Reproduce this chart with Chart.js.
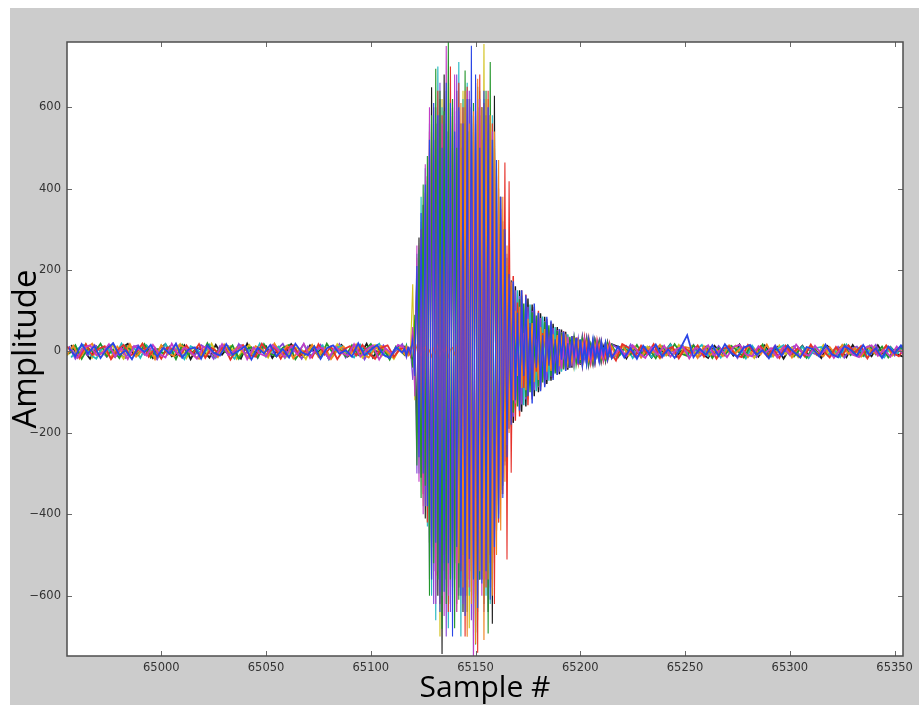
<!DOCTYPE html>
<html>
<head>
<meta charset="utf-8">
<script src="https://cdn.jsdelivr.net/npm/chart.js@4.4.1/dist/chart.umd.min.js"></script>
<style>
  html, body { margin: 0; padding: 0; background: #ffffff; }
  #frame { position: absolute; left: 10px; top: 8px; width: 909px; height: 697px; background: #cccccc; }
  canvas { display: block; }
</style>
</head>
<body>
<div id="frame"><canvas id="trace" width="909" height="697"></canvas></div>
<script>
// sample grid: quiet parts every 3rd sample, burst every sample
const leftStart = 64955, leftStep = 3;
const burstStart = 65116;
const rightStart = 65217, rightStep = 3;
const xMin = 64955, xMax = 65354;
const yMin = -748, yMax = 760;

const xTicks = [65000, 65050, 65100, 65150, 65200, 65250, 65300, 65350];
const yTicks = [-600, -400, -200, 0, 200, 400, 600];

// orange trace (burst starts later)
const orangeLeft = [-8,14,-17,6,19,-11,2,-15,12,-6,18,-13,4,9,-19,15,-3,-12,16,7,-9,-18,11,3,-14,17,-7,10,-2,-16,13,5,-11,19,-9,14,-17,6,-4,16,-13,8,-19,3,12,-10,17,-6,-15,7,13,-3,-16,9];
const orangeBurst = [-6,9,-12,4,11,-8,14,-3,-10,7,12,-9,3,-13,8,-5,15,-11,6,-2,10,-14,5,9,-7,12,
  -520,610,-580,640,-701,560,-620,590,-718,670,-540,600,-709,620,-560,580,-600,540,-500,470,-440,380,-320,260,
  -200,170,
  -120,100,-60,110,-90,45,-95,80,-30,70,-75,20,
  -70,60,-15,55,-50,10,-48,42,-5,40,
  -36,30,-3,32,-28,8,-26,24,-10,22,
  -21,18,-2,20,-18,6,-17,16,-4,15,-14,2,-13,12,-5,11];
const orangeRight = [-11,14,-6,12,-15,8,-3,16,-10,5,-13,11,7,-16,13,-9,4,-12,15,-5,10,-14,6,-8,17,-11,3,12,-15,9,-7,14,-4,-12,11,-9,16,-6,8,-13,12,-3,-10,15,-8,6,-11];

// blue trace
const blueLeft = [8,-12,18,-5,13,-16,6,20,-9,3,-19,12,-2,16,-13,9,-6,19,-15,5,10,-18,15,-3,-10,18,-8,2,13,-20,9,-5,16,-12,6,-15,19,-2,-9,12,-18,8,15,-6,3,-13,20,-10,5,16,-8,-16,10,-3];
const blueBurst = [6,-9,11,-4, 30,-60, 210,-260,340,-300,410,-380,
  520,-560,610,-470,580,-640,500,-590,660,-520,610,-700,540,-480,600,-600,560,-650,620,-510,751,-560,680,-630,500,-570,640,-540,600,-610,520,-480,
  470,-410,380,-360,300,-260, 190,-180,
  172,-120,95,-145,150,-60,138,-110,70,-128,118,-40,
  95,-98,40,-88,85,-35,76,-70,30,-58,
  55,-20,49,-48,20,-40,38,-12,33,-30,
  28,-30,12,-28,25,-8,27,-24,10,-22,23,-5,20,-18,6,-16];
const blueRight = [12,-15,8,-18,14,-6,17,-12,5,-16,10,40,-14,7,-9,15,-11,18,-4,-13,9,16,-8,3,-17,12,-10,14,-2,-15,11,6,-12,17,-7,-14,13,4,-10,16,-9,8,-16,12,-5,15,-11];

// magenta trace
const magentaLeft = [5,-16,10,15,-9,-3,18,-13,8,-19,13,3,-10,16,-6,-15,19,-8,9,-2,-18,12,6,-13,18,-9,2,15,-19,10,-5,-12,16,3,-15,13,-8,19,-16,6,9,-18,12,-3,-10,18,-13,5,15,-20,8,-6,16,-12];
const magentaBurst = [9,-5,12,-10, 60,-110, 260,-320,280,-400,460,-380,
  600,-520,480,-620,580,-590,560,-650,750,-600,520,-560,680,-640,590,-520,560,-600,640,-580,600,-755,660,-540,620,-600,560,-560,600,-520,540,-480,
  430,-400,350,-310,260,-230, 180,-165,
  140,-128,70,-120,118,-50,106,-100,40,-90,88,-30,
  80,-76,20,-68,64,-15,58,-54,8,-48,
  45,-43,5,-38,36,-10,33,-31,2,-28,
  27,-12,25,-24,4,-22,22,-8,20,-19,0,-18,17,-6,15,-15];
const magentaRight = [7,-12,15,-4,-16,10,-8,14,-13,6,12,-17,9,-2,15,-10,5,-14,11,16,-7,-12,13,-5,8,-15,12,-9,17,-3,-11,14,-6,10,-16,5,13,-8,-14,9,15,-11,4,-13,12,-7,16];

// red trace
const redLeft = [12,-5,-15,18,-9,6,13,-19,2,16,-10,-3,19,-13,8,-18,10,5,-12,15,-6,18,-16,9,-2,13,-20,6,16,-9,-13,19,-3,10,-18,8,15,-12,3,-15,18,-8,12,-19,5,13,-10,16,-5,-18,9,15,-13,6];
const redBurst = [10,-7,4,-12, 50,-30, 190,-230,300,-350,390,-420,
  540,-480,600,-550,640,-620,580,-500,560,-640,700,-580,540,-620,660,-540,600,-700,650,-560,620,-600,590,-740,680,-560,610,-580,640,-500,560,-620,
  300,-420,380,-350,464,-511,418,-298,
  185,-170,120,-160,150,-90,140,-132,60,-118,110,-50,
  100,-95,45,-84,80,-30,72,-66,20,-58,
  55,-40,50,-46,18,-40,38,-20,35,-33,
  12,-30,30,-10,28,-26,5,-25,24,-8,22,-21,3,-19,18,-6];
const redRight = [-22,18,9,-12,14,-7,18,-15,4,11,-17,8,-5,15,-13,10,-18,6,12,-9,-14,16,-3,13,-11,7,-16,14,-6,9,-12,17,-8,2,-15,11,-10,15,-4,13,-17,8,-9,14,-2,-12,10];

// green trace
const greenLeft = [-6,15,-18,9,-3,19,-12,5,-16,13,2,-9,18,-15,6,-5,12,-19,16,-8,3,-13,20,-10,8,-2,15,-18,5,10,-15,18,-6,-12,9,16,-19,3,-8,13,-16,19,-5,6,-12,15,-9,2,18,-13,8,-20,12,-3];
const greenBurst = [-8,12,-6,9, -40,90, -280,250,-360,410,-330,480,
  -600,580,-520,694,-560,640,-681,590,-620,763,-560,620,-680,500,-610,560,-500,690,-640,540,-590,610,-720,650,-560,600,-600,640,-693,711,-560,520,
  -440,380,-350,300,-240,210, -170,160,
  -150,80,-135,128,-60,118,-112,45,-100,96,-30,88,
  -86,50,-76,72,-20,64,-60,25,-54,50,
  -15,46,-44,10,-38,36,-8,33,-31,5,
  -28,27,0,25,-24,12,-22,22,-6,20,-19,3,-18,17,-5,15];
const greenRight = [-14,10,-7,16,-12,4,-17,13,-9,18,-5,-11,15,-3,12,-16,8,-10,14,2,-15,11,-6,17,-13,9,-4,15,-12,6,-16,10,-8,13,-2,-14,16,-9,5,-11,14,-7,12,-15,3,10,-13];

// cyan trace
const cyanLeft = [-15,6,16,-8,-18,12,3,-13,19,-5,9,-16,15,-2,-12,18,-6,8,-19,13,5,-9,16,-15,10,-3,-18,15,6,-10,19,-13,2,12,-16,9,-5,18,-10,-2,15,-19,8,13,-6,-15,16,-9,5,19,-12,-3,10,-18];
const cyanBurst = [-5,14,-9,3, 20,-80, 240,-300,380,-260,450,-430,
  560,-600,520,-660,700,-540,600,-520,640,-680,620,-560,590,-610,711,-700,620,-580,660,-600,600,-746,560,-640,580,-560,620,-600,540,-620,580,-500,
  450,-420,380,-330,290,-250, 200,-185,
  165,-100,150,-148,80,-132,126,-60,115,-108,40,-98,
  95,-50,86,-80,30,-72,68,-25,60,-56,
  15,-50,47,-10,42,-40,5,-35,33,-12,
  30,-29,8,-27,26,-10,24,-23,2,-21,20,-6,19,-18,0,-16];
const cyanRight = [-9,13,-16,7,11,-14,5,-10,17,-6,14,-12,3,16,-11,8,-15,12,-4,9,-17,14,-7,10,-13,6,15,-9,-3,12,-16,8,11,-10,4,-14,17,-6,9,-12,13,-5,-15,10,-8,16,-4];

// yellow trace
const yellowLeft = [-10,13,-3,18,-15,9,-6,16,5,-18,12,-9,19,-2,-13,15,-8,3,18,-16,10,-5,-12,19,-9,6,13,-18,2,16,-10,8,-15,18,-3,-13,12,5,-19,15,-6,9,-16,18,-2,-9,13,-15,6,16,-12,3,-18,10];
const yellowBurst = [-6,10,-3,8, 165,-120, 230,-250,318,-380,350,-420,
  480,-560,520,-600,560,-700,620,-540,600,-580,660,-500,560,-640,580,-600,640,-560,520,-680,600,-620,580,-660,640,-540,755,-560,620,-580,560,-520,
  400,-360,330,-300,250,-220, 170,-160,
  155,-140,90,-135,138,-70,124,-118,50,-105,100,-35,
  90,-86,30,-76,72,-20,64,-60,10,-53,
  50,-47,8,-42,40,-15,36,-34,4,-30,
  29,-28,10,-26,25,-5,23,-22,0,-21,20,-8,18,-18,3,-16];
const yellowRight = [-5,15,-11,9,-14,12,3,-17,8,-9,16,-6,13,-12,4,11,-15,7,-3,14,-10,9,-16,12,-2,-13,15,-7,10,-14,5,12,-9,16,-11,3,-12,14,-6,8,-15,11,-4,13,-10,7,-14];

// purple trace
const purpleLeft = [13,-18,6,-9,16,3,-13,19,-6,-16,10,15,-8,2,-19,12,-5,18,-15,8,-10,16,5,-18,13,-2,-12,18,-6,9,-16,15,-9,3,19,-13,6,-18,12,-3,16,-10,-6,18,-15,5,13,-19,9,-8,15,-12,2,18];
const purpleBurst = [4,-13,10,-2, -70,40, -300,250,-280,300,-380,420,
  -560,520,-620,600,-540,660,-600,580,-700,540,-640,620,-560,680,-600,560,-620,600,-580,640,-660,560,-600,620,-560,600,-640,540,-600,560,-580,500,
  -440,400,-360,320,-280,240, -190,170,
  -160,150,-80,136,-130,60,-118,110,-45,100,-95,30,
  -88,82,-25,74,-70,18,-62,58,-10,52,
  -50,47,-6,42,-40,12,-36,35,-3,31,
  -30,29,-12,27,-26,5,-24,23,-8,22,-21,2,-19,18,-6,17];
const purpleRight = [8,-10,17,-13,4,12,-9,-15,11,-5,14,-8,16,-12,2,-11,13,-6,9,-16,12,-3,-14,10,-7,15,-10,5,13,-13,8,-4,-11,14,-9,11,-15,6,12,-8,-3,16,-12,7,-10,13,-5];

// black trace
const blackLeft = [16,-9,3,-18,12,-5,15,-13,8,19,-10,-2,13,-16,6,18,-12,-6,15,-19,9,2,-15,16,-8,12,-3,-18,19,-10,5,13,-16,8,-9,18,-2,-13,15,-5,10,-18,3,16,-12,6,-8,19,-15,9,-3,-10,13,-16];
const blackBurst = [12,-8,5,-11, -20,45, -200,280,-310,360,-410,430,
  -470,649,-540,560,-600,620,-743,680,-560,540,-620,600,-520,640,-580,500,-640,560,-600,620,-540,580,-690,600,-560,520,-620,580,-640,580,-669,628,
  -410,380,-340,300,-270,230, -190,175,
  -175,160,-100,150,-148,70,-135,130,-55,115,-110,40,
  -100,94,-30,85,-80,22,-72,68,-15,60,
  -56,54,-10,48,-45,6,-40,38,-14,34,
  -32,31,-4,29,-28,11,-26,25,-2,23,-22,8,-21,20,-5,18];
const blackRight = [10,-17,13,-8,6,-15,11,-4,18,-12,7,-14,9,-6,-16,14,-3,12,-10,17,-9,5,-13,15,-7,11,-18,8,-2,14,-11,6,-16,13,-5,10,-14,16,-8,3,-12,15,-9,11,-6,-13,9];

// first one is drawn on top; shift = which sample of the 3-step grid the quiet parts start on
const traces = [
  { name: 'blue', color: '#2a46e6', shift: 1, left: blueLeft, burst: blueBurst, right: blueRight },
  { name: 'magenta', color: '#c23cc6', shift: 2, left: magentaLeft, burst: magentaBurst, right: magentaRight },
  { name: 'red', color: '#e6322b', shift: 0, left: redLeft, burst: redBurst, right: redRight },
  { name: 'orange', color: '#ef8420', shift: 0, left: orangeLeft, burst: orangeBurst, right: orangeRight },
  { name: 'green', color: '#23962b', shift: 1, left: greenLeft, burst: greenBurst, right: greenRight },
  { name: 'cyan', color: '#22b8c0', shift: 2, left: cyanLeft, burst: cyanBurst, right: cyanRight },
  { name: 'yellow', color: '#d2c21e', shift: 0, left: yellowLeft, burst: yellowBurst, right: yellowRight },
  { name: 'purple', color: '#8446d8', shift: 1, left: purpleLeft, burst: purpleBurst, right: purpleRight },
  { name: 'black', color: '#1a1a1a', shift: 2, left: blackLeft, burst: blackBurst, right: blackRight }
];

function toPoints(t) {
  let pts = [];
  t.left.forEach((v, i) => {
    let x = leftStart + t.shift + i * leftStep;
    if (x < burstStart) pts.push({ x: x, y: v });
  });
  t.burst.forEach((v, i) => {
    let x = burstStart + i;
    if (x < rightStart) pts.push({ x: x, y: v });
  });
  t.right.forEach((v, i) => {
    pts.push({ x: rightStart + t.shift + i * rightStep, y: v });
  });
  return pts;
}

// thinner strokes inside the dense burst so the lower traces show through
function segWidth(ctx) {
  let x = ctx.p0.parsed.x;
  if (x >= 65118 && x < 65168) return 1.1;
  if (x >= 65168 && x < 65200) return 1.4;
  return 1.8;
}

const plotFrame = {
  id: 'plotFrame',
  beforeDraw(chart) {
    const { ctx, chartArea: a } = chart;
    ctx.save();
    ctx.fillStyle = '#ffffff';
    ctx.fillRect(a.left, a.top, a.right - a.left, a.bottom - a.top);
    ctx.restore();
  },
  afterDatasetsDraw(chart) {
    const { ctx, chartArea: a, scales } = chart;
    ctx.save();
    ctx.strokeStyle = '#6a6a6a';
    ctx.lineWidth = 1;
    ctx.beginPath();
    xTicks.forEach(v => {
      let px = Math.round(scales.x.getPixelForValue(v)) + 0.5;
      ctx.moveTo(px, a.bottom); ctx.lineTo(px, a.bottom - 5);
      ctx.moveTo(px, a.top); ctx.lineTo(px, a.top + 5);
    });
    yTicks.forEach(v => {
      let py = Math.round(scales.y.getPixelForValue(v)) + 0.5;
      ctx.moveTo(a.left, py); ctx.lineTo(a.left + 5, py);
      ctx.moveTo(a.right, py); ctx.lineTo(a.right - 5, py);
    });
    ctx.stroke();
    ctx.strokeStyle = '#4d4d4d';
    ctx.lineWidth = 1.5;
    ctx.strokeRect(a.left, a.top, a.right - a.left, a.bottom - a.top);
    ctx.restore();
  }
};

const tickFont = { family: 'DejaVu Sans', size: 11.5 };

new Chart(document.getElementById('trace').getContext('2d'), {
  type: 'line',
  data: {
    datasets: traces.map(t => ({
      label: t.name,
      data: toPoints(t),
      borderColor: t.color,
      backgroundColor: t.color,
      borderWidth: 1.8,
      segment: { borderWidth: segWidth },
      pointRadius: 0,
      tension: 0,
      fill: false
    }))
  },
  options: {
    responsive: false,
    animation: false,
    devicePixelRatio: 1,
    layout: { padding: { left: 0, top: 34, right: 16, bottom: 0 } },
    plugins: {
      legend: { display: false },
      tooltip: { enabled: false }
    },
    scales: {
      x: {
        type: 'linear',
        position: 'bottom',
        min: xMin,
        max: xMax,
        grid: { display: false, drawTicks: false },
        border: { display: false },
        afterBuildTicks: axis => { axis.ticks = xTicks.map(v => ({ value: v })); },
        afterFit: axis => { axis.height = 49; axis.paddingLeft = 0; axis.paddingRight = 0; },
        ticks: {
          autoSkip: false,
          maxRotation: 0,
          padding: 5,
          color: '#333333',
          font: tickFont,
          callback: v => String(v)
        },
        title: {
          display: true,
          text: 'Sample #',
          color: '#000000',
          font: { family: 'Open Sans', size: 30, lineHeight: 1 },
          padding: { top: 0, bottom: 2 }
        }
      },
      y: {
        type: 'linear',
        position: 'left',
        min: yMin,
        max: yMax,
        grid: { display: false, drawTicks: false },
        border: { display: false },
        afterBuildTicks: axis => { axis.ticks = yTicks.map(v => ({ value: v })); },
        afterFit: axis => { axis.width = 57; axis.paddingTop = 0; axis.paddingBottom = 0; },
        ticks: {
          padding: 6,
          color: '#333333',
          font: tickFont,
          callback: v => v < 0 ? '\u2212' + Math.abs(v) : String(v)
        },
        title: {
          display: true,
          text: 'Amplitude',
          color: '#000000',
          font: { family: 'Open Sans', size: 33, lineHeight: 1 },
          padding: { top: 0, bottom: 0 }
        }
      }
    }
  },
  plugins: [plotFrame]
});
</script>
</body>
</html>
